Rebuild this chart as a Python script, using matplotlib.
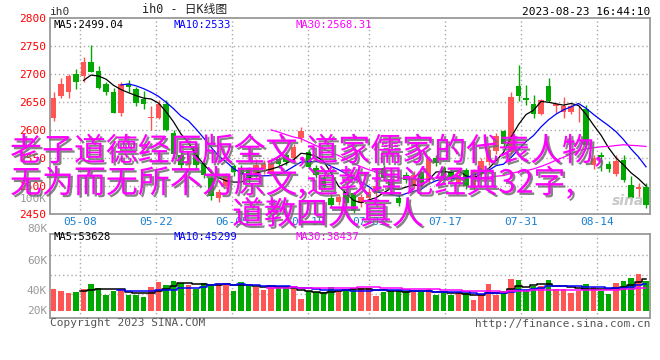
import matplotlib
matplotlib.use("Agg")
import matplotlib.pyplot as plt
import matplotlib.patheffects as pe
import pandas as pd

# -----------------------------
# Data (ih0, daily K)
# -----------------------------
opens = [2621, 2660, 2668, 2700, 2696, 2721, 2705, 2682, 2667, 2631,
         2683, 2673, 2655, 2622, 2621, 2646, 2594, 2556, 2540, 2570,
         2541, 2514, 2478, 2500, 2535, 2530, 2530, 2518, 2530, 2525,
         2548, 2555, 2550, 2586, 2561, 2532, 2515, 2479, 2471, 2490,
         2487, 2469, 2478, 2488, 2532, 2512, 2479, 2520, 2500, 2525,
         2510, 2550, 2532, 2525, 2505, 2528, 2496, 2522, 2542, 2563,
         2598, 2560, 2679, 2658, 2646, 2628, 2679, 2642, 2632, 2633,
         2635, 2637, 2537, 2556, 2539, 2521, 2546, 2502, 2495, 2499]
highs = [2668, 2692, 2700, 2709, 2730, 2752, 2714, 2686, 2675, 2686,
         2689, 2677, 2670, 2643, 2653, 2653, 2600, 2562, 2556, 2576,
         2548, 2518, 2494, 2524, 2540, 2538, 2534, 2548, 2546, 2547,
         2552, 2560, 2575, 2606, 2566, 2538, 2520, 2486, 2486, 2495,
         2490, 2485, 2496, 2505, 2538, 2518, 2486, 2525, 2526, 2530,
         2553, 2556, 2536, 2530, 2526, 2532, 2530, 2550, 2570, 2595,
         2600, 2668, 2716, 2680, 2662, 2656, 2693, 2649, 2659, 2646,
         2642, 2645, 2555, 2561, 2545, 2555, 2555, 2517, 2505, 2505]
lows = [2616, 2657, 2658, 2673, 2686, 2704, 2673, 2662, 2631, 2625,
        2668, 2643, 2637, 2600, 2619, 2598, 2550, 2530, 2532, 2530,
        2515, 2475, 2472, 2495, 2518, 2512, 2505, 2512, 2522, 2520,
        2532, 2538, 2545, 2578, 2530, 2515, 2495, 2462, 2466, 2465,
        2450, 2462, 2474, 2482, 2510, 2490, 2464, 2505, 2496, 2500,
        2506, 2536, 2510, 2510, 2500, 2495, 2492, 2518, 2538, 2558,
        2570, 2555, 2652, 2645, 2621, 2626, 2650, 2630, 2621, 2628,
        2614, 2570, 2530, 2527, 2525, 2518, 2507, 2475, 2481, 2461]
closes = [2657, 2683, 2696, 2686, 2721, 2704, 2675, 2668, 2631, 2683,
          2676, 2649, 2646, 2623, 2646, 2600, 2558, 2537, 2545, 2537,
          2520, 2482, 2490, 2518, 2525, 2520, 2512, 2538, 2540, 2541,
          2540, 2543, 2570, 2598, 2534, 2520, 2500, 2466, 2480, 2470,
          2455, 2480, 2490, 2500, 2514, 2495, 2470, 2511, 2520, 2505,
          2548, 2541, 2514, 2515, 2520, 2500, 2525, 2545, 2565, 2590,
          2575, 2659, 2660, 2654, 2628, 2654, 2652, 2646, 2642, 2643,
          2636, 2573, 2550, 2552, 2531, 2545, 2511, 2479, 2499, 2466]
volumes = [41700, 39700, 37700, 38700, 41700, 46700, 42700, 35700, 39700, 41700,
           35700, 35700, 33700, 43700, 48700, 45700, 49700, 47700, 45700, 41700,
           47700, 46700, 47700, 46700, 39700, 48700, 44700, 43700, 40700, 43700,
           43700, 43700, 41700, 31700, 39700, 38700, 38700, 43700, 39700, 40700,
           42700, 42300, 42300, 34700, 39000, 39700, 41000, 39700, 38300, 38300,
           41700, 35700, 37700, 35700, 38300, 37700, 30700, 36300, 46700, 35700,
           39700, 51700, 50700, 40700, 44700, 44700, 50700, 41700, 41700, 37700,
           39700, 46700, 43700, 39700, 36700, 47700, 49700, 52700, 56700, 49700]

date_labels = ["05-08", "05-22", "06-05", "06-19", "07-03", "07-17", "07-31", "08-14"]
date_index = [4, 14, 24, 34, 42, 52, 62, 72]
price_ticks = [2800, 2750, 2700, 2650, 2600, 2550, 2500, 2450]
vol_tick_labels = ["100K", "80K", "60K", "40K", "20K"]
price_ma_labels = ["MA5:2499.04", "MA10:2533", "MA30:2568.31"]
vol_ma_labels = ["MA5:53628", "MA10:45299", "MA30:38437"]

title_lines = ["老子道德经原版全文,道家儒家的代表人物,",
               "无为而无所不为原文,道教理论经典32字,",
               "道教四大真人"]

# -----------------------------
# Styling
# -----------------------------
RED = "#ff5555"
GREEN = "#00a800"
GRID = "#aaaaaa"
BORDER = "#999999"
MONO = "DejaVu Sans Mono"
MA_COLORS = ["black", "#0000ff", "#ff00ff"]
W, H = 660, 360


def fx(px):
    return px / W


def fy(py):
    return 1 - py / H


df = pd.DataFrame({"open": opens, "high": highs, "low": lows,
                   "close": closes, "vol": volumes})
n = len(df)
xs = [i + 0.47 for i in range(n)]
colors = [RED if c >= o else GREEN for o, c in zip(df["open"], df["close"])]
# SINA spaces its date grid by width/(n-1)
tick_pos = [i * n / (n - 1) for i in date_index]

fig = plt.figure(figsize=(6.6, 3.6), dpi=100)
ax = fig.add_axes([fx(50), fy(214), fx(600), 196 / H])
ax2 = fig.add_axes([fx(50), fy(318), fx(600), 84 / H])

# -----------------------------
# Price panel
# -----------------------------
for y in price_ticks[1:-1]:
    ax.axhline(y, color=GRID, lw=1, ls=(0, (1, 2)), zorder=0)
for t in tick_pos:
    ax.axvline(t, color=GRID, lw=1, ls=(0, (1, 2)), zorder=0)

ax.vlines(xs, df["low"], df["high"], colors=colors, lw=1, zorder=2)
body_bottom = [min(o, c) for o, c in zip(df["open"], df["close"])]
body_height = [max(abs(c - o), 1.6) for o, c in zip(df["open"], df["close"])]
ax.bar(xs, body_height, bottom=body_bottom, width=0.74, color=colors,
       linewidth=0, zorder=3)

for w, col in zip([5, 10, 30], MA_COLORS):
    ax.plot(xs, df["close"].rolling(w).mean(), color=col, lw=0.9, zorder=4)

ax.set_xlim(0, n)
ax.set_ylim(2450, 2800)
ax.set_yticks(price_ticks)
ax.set_yticklabels([str(p) for p in price_ticks], color="#ff0000",
                   fontsize=8, family=MONO)
ax.set_xticks(tick_pos)
ax.set_xticklabels(date_labels, color="#1a7fd0", fontsize=8, family=MONO)
ax.tick_params(length=0, pad=3)
ax.tick_params(axis="x", pad=2)
for s in ax.spines.values():
    s.set_color(BORDER)
    s.set_linewidth(1.3)

for lab, col, px in zip(price_ma_labels, MA_COLORS, [53, 174, 295]):
    fig.text(fx(px), fy(24.5), lab, color=col, fontsize=7.6, family=MONO,
             va="center", ha="left")

fig.text(fx(628), fy(201), "sina", color="#c8c8c8", fontsize=10,
         fontweight="bold", style="italic", ha="center", va="center")

# -----------------------------
# Volume panel
# -----------------------------
base = 20000
ax2.set_ylim(12700, 96400)
for y in [75000, 55700, 36400]:
    ax2.axhline(y, color=GRID, lw=1, ls=(0, (1, 2)), zorder=0)
for t in tick_pos:
    ax2.axvline(t, color=GRID, lw=1, ls=(0, (1, 2)), zorder=0)

ax2.bar(xs, df["vol"] - base, bottom=base, width=0.74, color=colors,
        linewidth=0, zorder=2)
for w, col in zip([5, 10, 30], MA_COLORS):
    ax2.plot(xs, df["vol"].rolling(w).mean(), color=col, lw=1.1,
             drawstyle="steps-mid", zorder=3)

ax2.set_xlim(0, n)
ax2.set_xticks(tick_pos)
ax2.set_xticklabels([])
ax2.set_yticks([])
ax2.tick_params(length=0)
for s in ax2.spines.values():
    s.set_color(BORDER)
    s.set_linewidth(1.3)

for lab, py in zip(vol_tick_labels, [199, 229, 261, 291, 311]):
    fig.text(fx(47), fy(py), lab, color="#999999", fontsize=8, family=MONO,
             ha="right", va="center")

for lab, col, px in zip(vol_ma_labels, MA_COLORS, [53, 174, 295]):
    fig.text(fx(px), fy(237.5), lab, color=col, fontsize=7.6, family=MONO,
             va="center", ha="left")

# -----------------------------
# Header / footer
# -----------------------------
fig.text(fx(50), fy(12), "ih0", fontsize=8, family=MONO, color="#333333",
         va="center")
fig.text(fx(185), fy(10), "ih0 - 日K线图", fontsize=8.5,
         family=[MONO, "Noto Sans CJK SC"], color="#222222",
         ha="center", va="center")
fig.text(fx(650), fy(12), "2023-08-23 16:44:10", fontsize=8, family=MONO,
         color="black", ha="right", va="center")
fig.text(fx(50), fy(323), "Copyright 2023 SINA.COM", fontsize=8,
         family=MONO, color="#555555", va="center")
fig.text(fx(650), fy(324), "http://finance.sina.com.cn", fontsize=8,
         family=MONO, color="#555555", ha="right", va="center")

# -----------------------------
# Overlaid magenta caption
# -----------------------------
shadow = [pe.withSimplePatchShadow(offset=(1.6, -1.6),
                                   shadow_rgbFace="#6e6e6e", alpha=0.85)]
cap = dict(color="#ff00ff", fontsize=23,
           family=["Noto Sans CJK SC", "DejaVu Sans"], va="center",
           path_effects=shadow, zorder=10)
fig.text(fx(10), fy(151), title_lines[0], ha="left", **cap)
fig.text(fx(10), fy(183), title_lines[1], ha="left", **cap)
fig.text(fx(328), fy(215), title_lines[2], ha="center", **cap)

fig.savefig("out.png", dpi=100)
